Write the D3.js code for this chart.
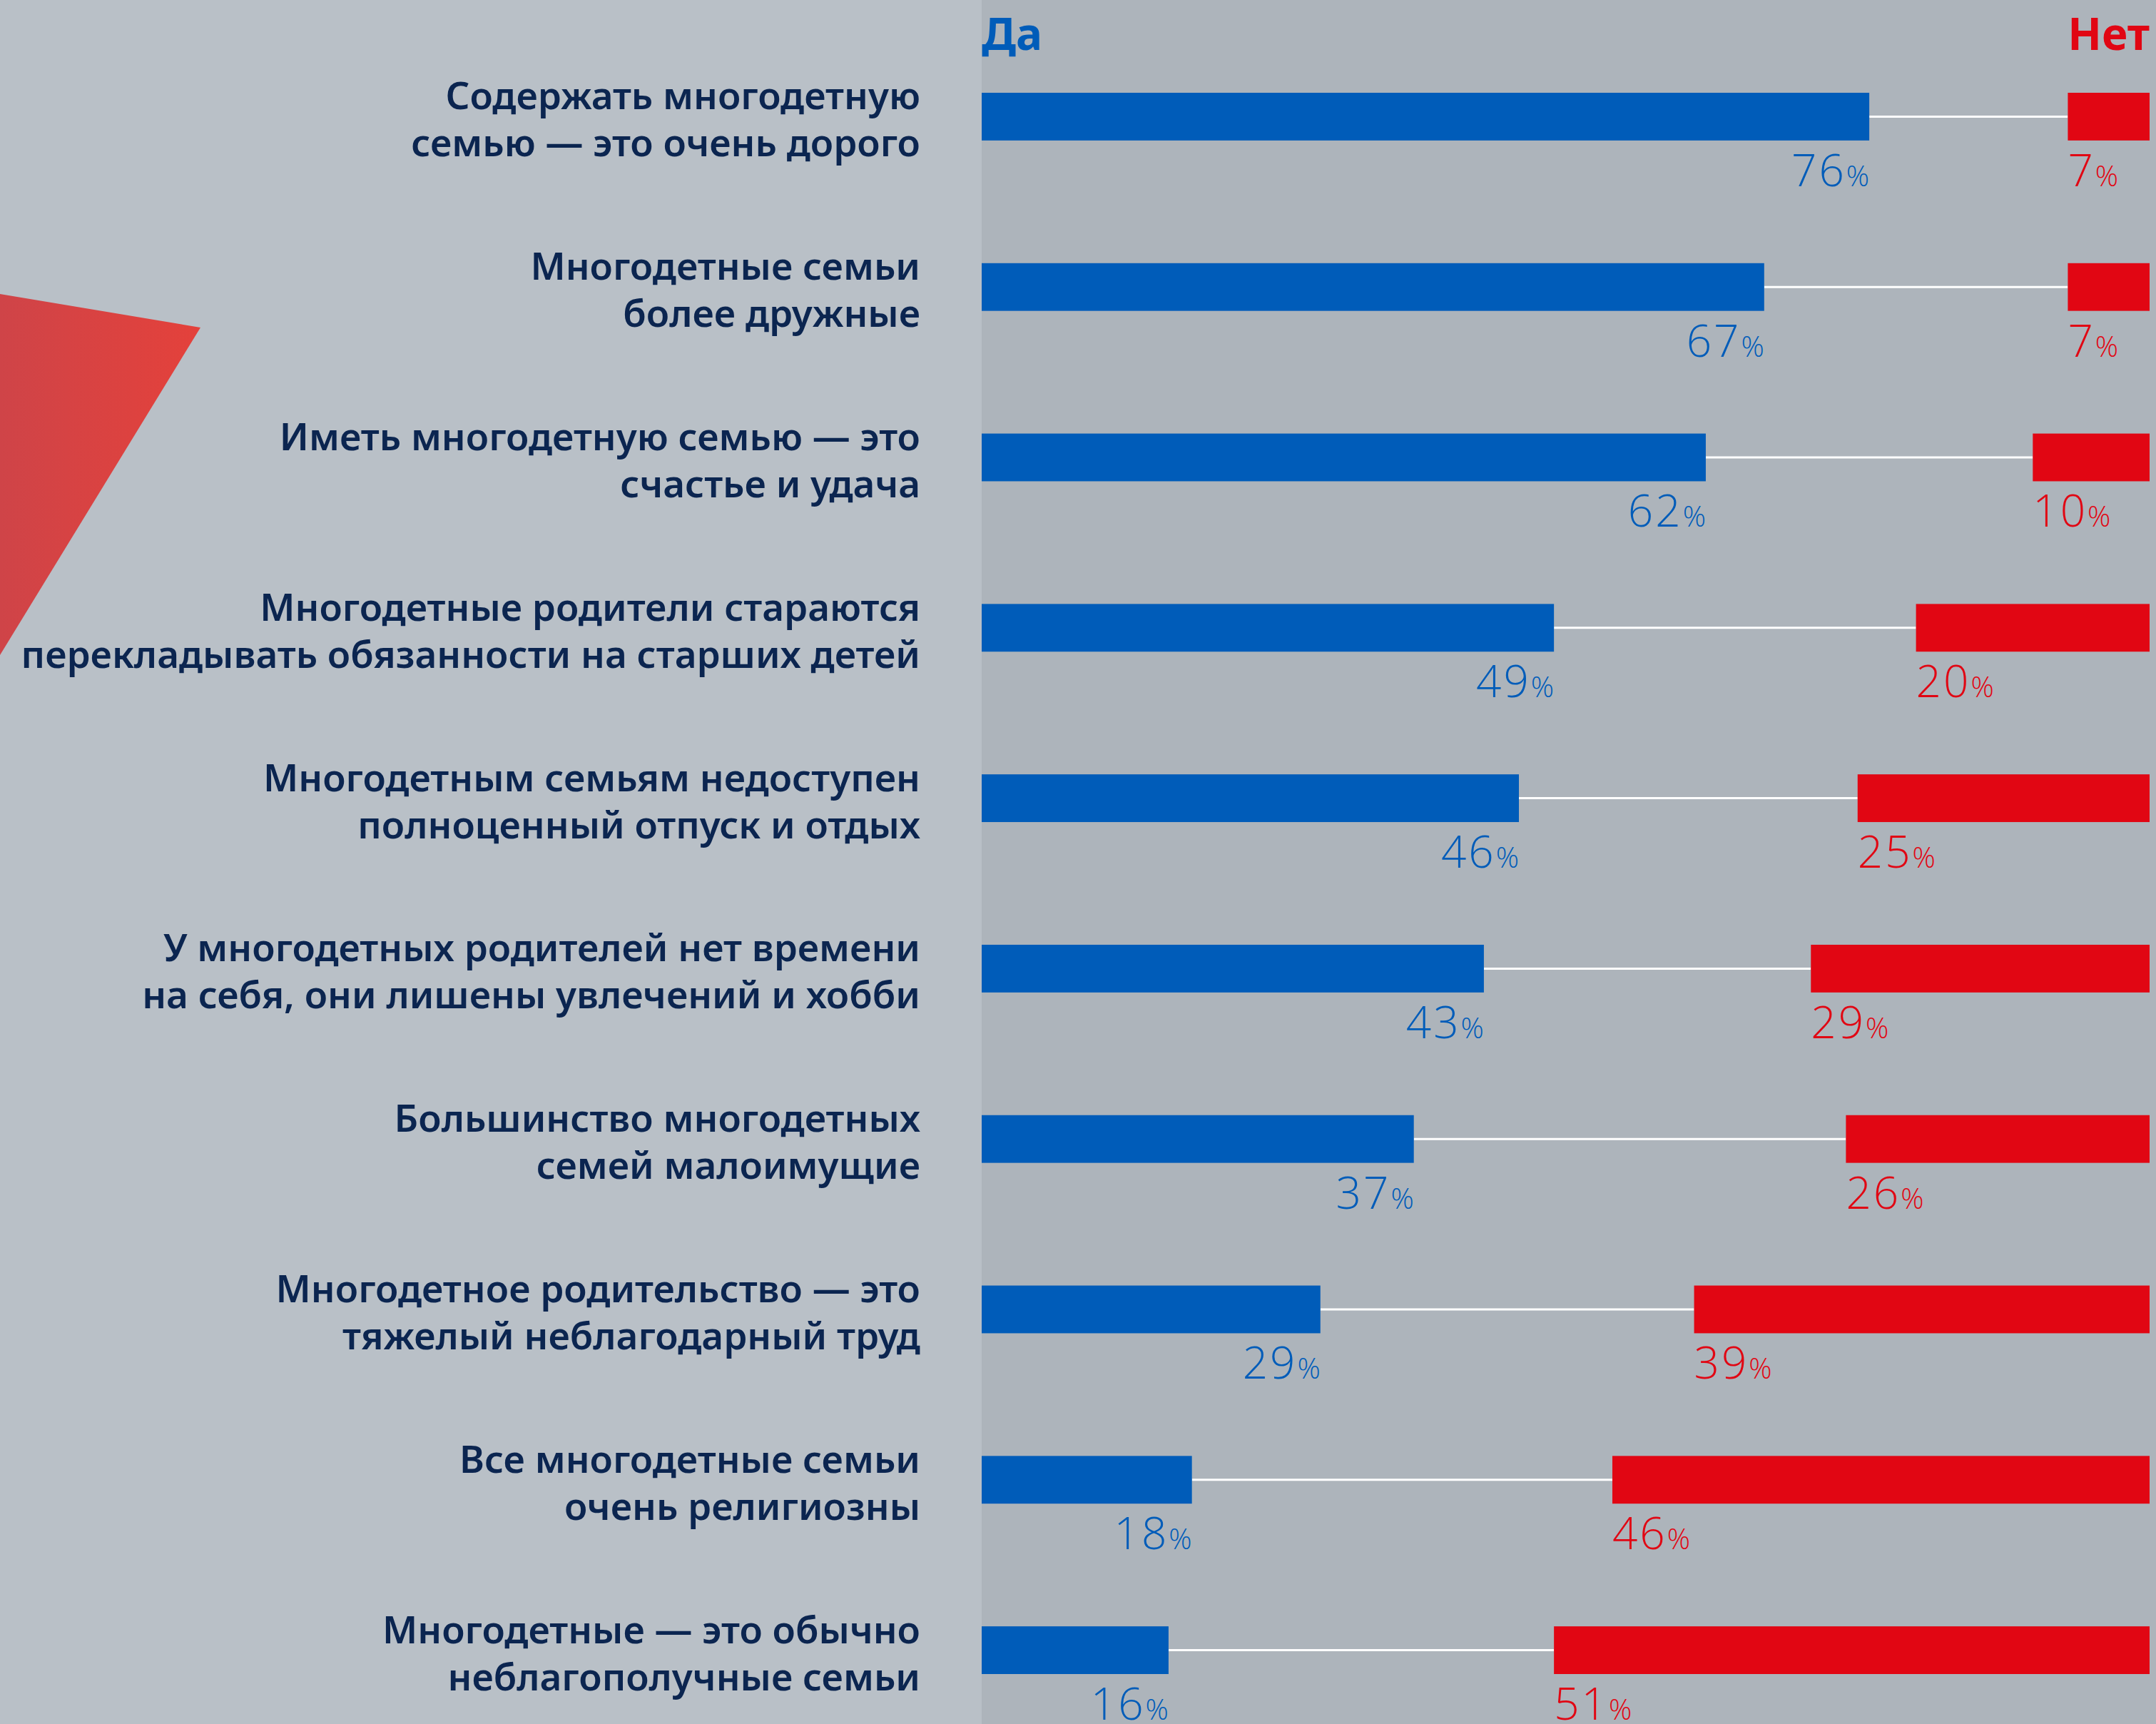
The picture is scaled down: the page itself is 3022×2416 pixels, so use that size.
<!DOCTYPE html>
<html>
<head>
<meta charset="utf-8">
<script src="https://cdn.jsdelivr.net/npm/d3@7"></script>
<style>
  body { margin: 0; background: #b9c0c7; }
  svg { display: block; }
</style>
</head>
<body>
<script>
let statements = [
  ['Содержать многодетную', 'семью — это очень дорого'],
  ['Многодетные семьи', 'более дружные'],
  ['Иметь многодетную семью — это', 'счастье и удача'],
  ['Многодетные родители стараются', 'перекладывать обязанности на старших детей'],
  ['Многодетным семьям недоступен', 'полноценный отпуск и отдых'],
  ['У многодетных родителей нет времени', 'на себя, они лишены увлечений и хобби'],
  ['Большинство многодетных', 'семей малоимущие'],
  ['Многодетное родительство — это', 'тяжелый неблагодарный труд'],
  ['Все многодетные семьи', 'очень религиозны'],
  ['Многодетные — это обычно', 'неблагополучные семьи']
];
let yesValues = [76, 67, 62, 49, 46, 43, 37, 29, 18, 16];
let noValues = [7, 7, 10, 20, 25, 29, 26, 39, 46, 51];
let yesTitle = 'Да';
let noTitle = 'Нет';

let width = 3022;
let height = 2416;
let blue = '#005cb9';
let red = '#e10613';
let navy = '#0b2550';

let svg = d3.select('body').append('svg')
  .attr('width', width)
  .attr('height', height);

// background + grey panel behind the bars
svg.append('rect').attr('width', width).attr('height', height).attr('fill', '#b9c0c7');
svg.append('rect').attr('x', 1376).attr('y', 0)
  .attr('width', width - 1376).attr('height', height).attr('fill', '#adb4bb');

// red decorative triangle on the left
let grad = svg.append('defs').append('linearGradient')
  .attr('id', 'tri').attr('x1', '0').attr('x2', '1').attr('y1', '0').attr('y2', '0');
grad.append('stop').attr('offset', '0').attr('stop-color', '#cf4448');
grad.append('stop').attr('offset', '1').attr('stop-color', '#e4413b');
svg.append('path')
  .attr('d', 'M0,412L281,459L0,918Z')
  .attr('fill', 'url(#tri)');

let x = d3.scaleLinear().domain([0, 100]).range([1376, 3013]);
let y = d3.scaleBand()
  .domain(d3.range(statements.length))
  .range([130, 2346])
  .paddingInner(0.72)
  .paddingOuter(0);

let rows = svg.append('g').selectAll('g')
  .data(statements.map((s, i) => ({ lines: s, yes: yesValues[i], no: noValues[i], i: i })))
  .enter()
  .append('g')
  .attr('transform', d => `translate(0,${y(d.i)})`);

let bh = y.bandwidth();

// connector line
rows.append('line')
  .attr('x1', d => x(d.yes))
  .attr('x2', d => x(100 - d.no))
  .attr('y1', bh / 2).attr('y2', bh / 2)
  .attr('stroke', '#ffffff').attr('stroke-width', 3);

rows.append('rect')
  .attr('x', x(0))
  .attr('y', 0)
  .attr('width', d => x(d.yes) - x(0))
  .attr('height', bh)
  .attr('fill', blue);

rows.append('rect')
  .attr('x', d => x(100 - d.no))
  .attr('y', 0)
  .attr('width', d => x(100) - x(100 - d.no))
  .attr('height', bh)
  .attr('fill', red);

function valueLabel(sel, color, anchor) {
  sel.attr('y', bh + 64)
    .attr('text-anchor', anchor)
    .attr('fill', color)
    .style('font-family', '"Open Sans", sans-serif')
    .style('font-weight', 300)
    .style('letter-spacing', '3px')
    .style('font-size', '62px');
}

let yesLab = rows.append('text')
  .attr('x', d => x(d.yes))
  .call(valueLabel, blue, 'end');
yesLab.append('tspan').text(d => d.yes);
yesLab.append('tspan').style('font-size', '40px').style('letter-spacing', '0px').text('%');

let noLab = rows.append('text')
  .attr('x', d => x(100 - d.no))
  .call(valueLabel, red, 'start');
noLab.append('tspan').text(d => d.no);
noLab.append('tspan').style('font-size', '40px').style('letter-spacing', '0px').text('%');

// statement labels, two lines, right aligned
let lab = rows.append('text')
  .attr('text-anchor', 'end')
  .attr('fill', navy)
  .style('font-family', '"Noto Sans", sans-serif')
  .style('font-weight', 600)
  .style('font-size', '53px');
lab.append('tspan').attr('x', 1290).attr('y', bh / 2 - 10).text(d => d.lines[0]);
lab.append('tspan').attr('x', 1290).attr('y', bh / 2 + 56).text(d => d.lines[1]);

// column titles
svg.append('text')
  .attr('x', x(0)).attr('y', 70)
  .attr('fill', blue)
  .style('font-family', '"Noto Sans", sans-serif')
  .style('font-weight', 700)
  .style('font-size', '62px')
  .text(yesTitle);
svg.append('text')
  .attr('x', x(100)).attr('y', 70)
  .attr('text-anchor', 'end')
  .attr('fill', red)
  .style('font-family', '"Noto Sans", sans-serif')
  .style('font-weight', 700)
  .style('font-size', '62px')
  .text(noTitle);
</script>
</body>
</html>
